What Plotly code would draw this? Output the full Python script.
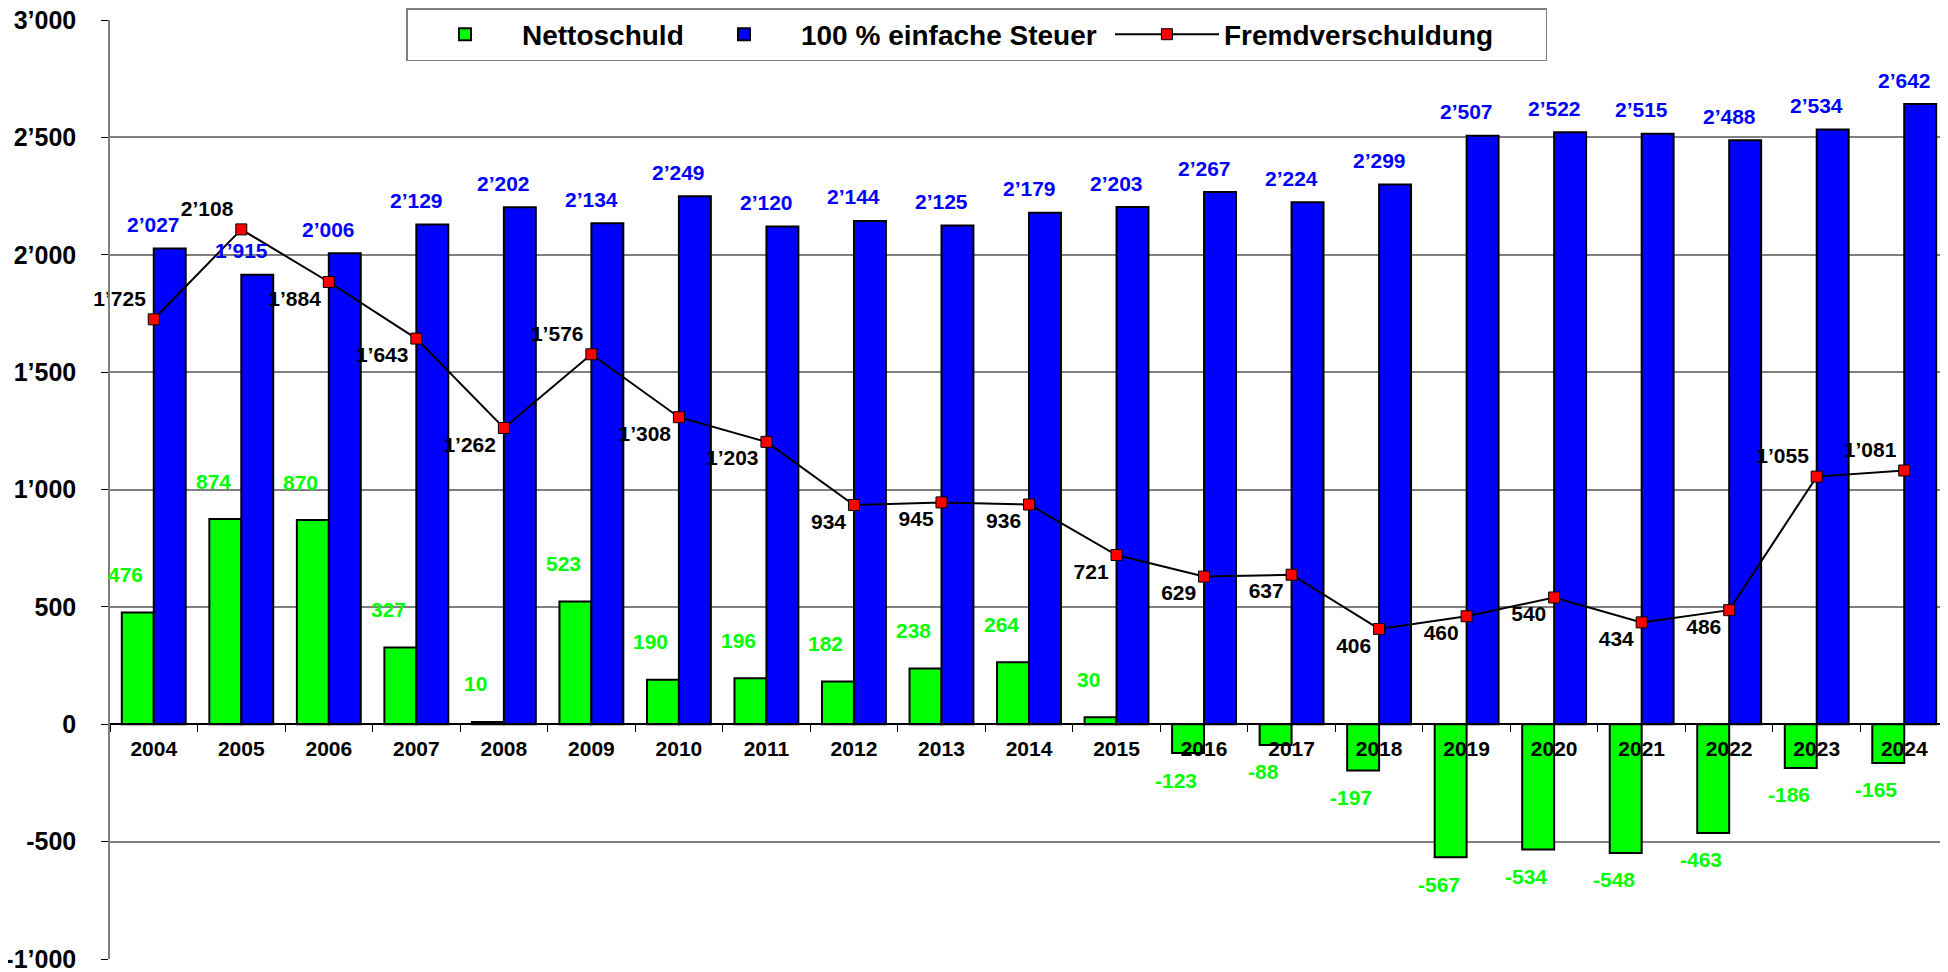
import plotly.graph_objects as go

# ---------------- data ----------------
years = [str(y) for y in range(2004, 2025)]
nettoschuld = [476, 874, 870, 327, 10, 523, 190, 196, 182, 238, 264, 30,
               -123, -88, -197, -567, -534, -548, -463, -186, -165]
steuer = [2027, 1915, 2006, 2129, 2202, 2134, 2249, 2120, 2144, 2125, 2179, 2203,
          2267, 2224, 2299, 2507, 2522, 2515, 2488, 2534, 2642]
fremd = [1725, 2108, 1884, 1643, 1262, 1576, 1308, 1203, 934, 945, 936, 721,
         629, 637, 406, 460, 540, 434, 486, 1055, 1081]
y_tickvals = [-1000, -500, 0, 500, 1000, 1500, 2000, 2500, 3000]
y_ticktext = ["-1’000", "-500", "0", "500", "1’000", "1’500", "2’000", "2’500", "3’000"]
Y_MIN, Y_MAX = -1000, 3000

# label placement style for the line labels (style, not data)
fremd_textpos = ["top left", "top left", "bottom left", "bottom left", "bottom left",
                 "top left"] + ["bottom left"] * 13 + ["top left", "top left"]


def fmt(v):
    return f"{v:,}".replace(",", "’")


FONT = "Liberation Sans, Arial, sans-serif"
GREEN = "#00FF00"
BLUE = "#0000FF"

# the page adds an 8px body margin; the figure is laid out to compensate
W, H = 1948, 972
M_L, M_R, M_T, M_B = 102, 8, 0, 21
plot_h = H - M_T - M_B
dom_top = 1 - 12 / plot_h
zero_pos = dom_top * (0 - Y_MIN) / (Y_MAX - Y_MIN)

fig = go.Figure()

fig.add_trace(go.Bar(
    name="Nettoschuld", x=years, y=nettoschuld,
    marker=dict(color=GREEN, line=dict(color="black", width=2)),
    legendwidth=160,
))
fig.add_trace(go.Bar(
    name="100 % einfache Steuer", x=years, y=steuer,
    marker=dict(color=BLUE, line=dict(color="black", width=2)),
    legendwidth=304,
))
fig.add_trace(go.Scatter(
    name="Fremdverschuldung", x=years, y=fremd,
    mode="lines+markers+text",
    line=dict(color="black", width=2),
    marker=dict(symbol="square", size=11, color="red", line=dict(color="black", width=1)),
    text=[fmt(v) for v in fremd], textposition=fremd_textpos,
    textfont=dict(family=FONT, size=21, color="black", weight="bold"),
    cliponaxis=False, legendwidth=317,
))

# value labels of the bars, placed like in the original (anchored at the data values;
# annotations on a category axis use the category index)
annotations = []
for i, v in enumerate(nettoschuld):
    annotations.append(dict(
        x=i, y=v, xref="x", yref="y", text=fmt(v), showarrow=False,
        xanchor="center", yanchor="middle",
        xshift=-28, yshift=38 if v >= 0 else -27,
        font=dict(family=FONT, size=21, color=GREEN, weight="bold"),
    ))
for i, v in enumerate(steuer):
    annotations.append(dict(
        x=i, y=v, xref="x", yref="y", text=fmt(v), showarrow=False,
        xanchor="center", yanchor="middle",
        xshift=0, yshift=24,
        font=dict(family=FONT, size=21, color=BLUE, weight="bold"),
    ))

fig.update_layout(
    width=W, height=H,
    margin=dict(l=M_L, r=M_R, t=M_T, b=M_B, autoexpand=False),
    paper_bgcolor="white", plot_bgcolor="white",
    barmode="group", bargap=0.27, bargroupgap=0,
    font=dict(family=FONT, color="black"),
    annotations=annotations,
    showlegend=True,
    legend=dict(
        orientation="h", x=0.1613, xanchor="left", y=1.0, yanchor="top",
        bgcolor="white", bordercolor="#808080", borderwidth=1.5,
        itemwidth=104,
        font=dict(family=FONT, size=28, color="black", weight="bold"),
        traceorder="normal",
    ),
    xaxis=dict(
        type="category", anchor="free", position=zero_pos, automargin=False,
        range=[-0.5, len(years) - 0.5],
        showline=True, linecolor="black", linewidth=1.5,
        ticks="outside", ticklen=7, tickcolor="black", tickwidth=1,
        tickson="boundaries", showgrid=False, ticklabelstandoff=6,
        tickfont=dict(family=FONT, size=21, color="black", weight="bold"),
    ),
    yaxis=dict(
        domain=[0, dom_top], automargin=False,
        range=[Y_MIN, Y_MAX], tickvals=y_tickvals, ticktext=y_ticktext,
        ticklabeloverflow="allow",
        showline=True, linecolor="#808080", linewidth=1.5,
        showgrid=True, gridcolor="#808080", gridwidth=1.5,
        zeroline=False,
        ticks="outside", ticklen=7, tickcolor="black",
        ticklabelstandoff=20,
        tickfont=dict(family=FONT, size=25, color="black", weight="bold"),
    ),
)

fig.write_html("out.html")
